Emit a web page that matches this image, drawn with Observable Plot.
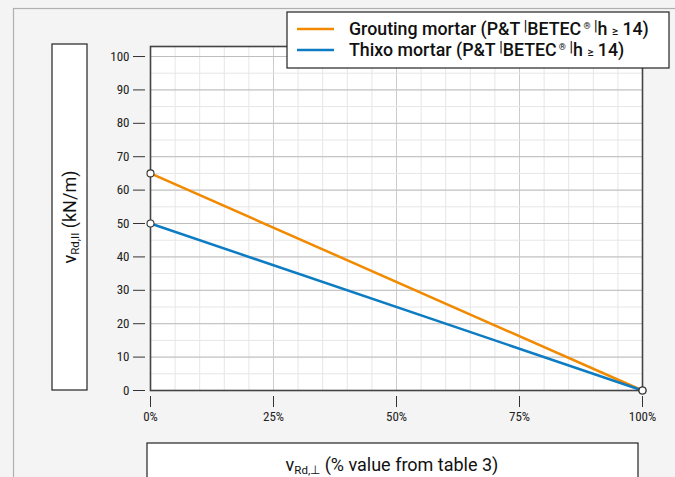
<!DOCTYPE html>
<html>
<head>
<meta charset="utf-8">
<script src="https://cdn.jsdelivr.net/npm/d3@7"></script>
<script src="https://cdn.jsdelivr.net/npm/@observablehq/plot@0.6"></script>
<style>
  html, body { margin: 0; padding: 0; background: #f4f4f4; overflow: hidden; }
  #chart { width: 675px; height: 477px; }
</style>
</head>
<body>
<div id="chart"></div>
<script>
// ---- data ----
const seriesNames = ["Grouting mortar", "Thixo mortar"];
const seriesColors = ["#F18A00", "#0E7CC2"];
const xValues = [0, 100];              // v_Rd,⊥ in %
const groutingValues = [65, 0];        // v_Rd,II kN/m
const thixoValues = [50, 0];           // v_Rd,II kN/m
const xTicks = [0, 25, 50, 75, 100];
const yTicks = [0, 10, 20, 30, 40, 50, 60, 70, 80, 90, 100];

const FONT = "'Roboto Condensed', 'DejaVu Sans Condensed', 'Liberation Sans Narrow', Roboto, sans-serif";
const LFONT = "Roboto, 'Noto Sans', sans-serif";

const rows = [];
xValues.forEach((x, i) => rows.push({series: seriesNames[0], x, y: groutingValues[i]}));
xValues.forEach((x, i) => rows.push({series: seriesNames[1], x, y: thixoValues[i]}));

const color = {domain: seriesNames, range: seriesColors};

const plot = Plot.plot({
  width: 675,
  height: 477,
  marginLeft: 150,
  marginRight: 33,
  marginTop: 46,
  marginBottom: 87,
  style: {background: "#f4f4f4", fontFamily: FONT, fontSize: "13px", color: "#222", overflow: "visible"},
  x: {domain: [0, 100]},
  y: {domain: [0, 103]},
  color,
  marks: [
    Plot.frame({fill: "white", stroke: null}),
    Plot.gridX(d3.range(0, 101, 5), {stroke: "#e6e6e6", strokeOpacity: 1}),
    Plot.gridX(xTicks, {stroke: "#cccccc", strokeOpacity: 1}),
    Plot.gridY(d3.range(0, 101, 5), {stroke: "#e6e6e6", strokeOpacity: 1}),
    Plot.gridY(yTicks, {stroke: "#bdbdbd", strokeOpacity: 1}),
    Plot.axisY(yTicks, {tickSize: 12, dx: -5, tickPadding: 4, label: null, stroke: "#333", fill: "#222", fontSize: 13}),
    Plot.axisX(xTicks, {tickSize: 11, dy: 6, tickPadding: 4, label: null, stroke: "#333", fill: "#222", fontSize: 13, tickFormat: d => d + "%"}),
    Plot.line(rows, {x: "x", y: "y", z: "series", stroke: "series", strokeWidth: 2.5}),
    Plot.frame({stroke: "#444", strokeWidth: 1.6}),
    Plot.dot(rows, {x: "x", y: "y", r: 3.5, fill: "white", stroke: "#333", strokeWidth: 1.1})
  ]
});
document.getElementById("chart").appendChild(plot);

// ---- decorations (boxes, labels, legend) ----
const svg = d3.select(plot);
// outer card border
svg.insert("rect", ":first-child")
  .attr("x", 13.5).attr("y", 8.5).attr("width", 800).attr("height", 600)
  .attr("fill", "none").attr("stroke", "#b0b0b0").attr("stroke-width", 1.2);

const deco = svg.append("g").attr("font-family", LFONT).attr("fill", "#111").attr("text-anchor", "start");

// y label box
deco.append("rect").attr("x", 52).attr("y", 44).attr("width", 35).attr("height", 346)
  .attr("fill", "white").attr("stroke", "#222").attr("stroke-width", 1.2);
const yl = deco.append("text").attr("transform", "translate(75.5,217) rotate(-90)")
  .attr("text-anchor", "middle").attr("font-size", 18);
yl.append("tspan").text("v");
yl.append("tspan").attr("font-size", 11.5).attr("dy", 3).text("Rd,II");
yl.append("tspan").attr("dy", -3).text(" (kN/m)");

// x label box
deco.append("rect").attr("x", 147).attr("y", 443).attr("width", 491).attr("height", 60)
  .attr("fill", "white").attr("stroke", "#222").attr("stroke-width", 1.2);
const xl = deco.append("text").attr("x", 392).attr("y", 471)
  .attr("text-anchor", "middle").attr("font-size", 18);
xl.append("tspan").text("v");
xl.append("tspan").attr("font-size", 11.5).attr("dy", 3).text("Rd,⊥");
xl.append("tspan").attr("dy", -3).text(" (% value from table 3)");

// legend
deco.append("rect").attr("x", 287).attr("y", 12).attr("width", 382).attr("height", 56)
  .attr("fill", "white").attr("stroke", "#222").attr("stroke-width", 1.2);
seriesNames.forEach((name, i) => {
  const cy = 29 + i * 21;
  deco.append("line").attr("x1", 297).attr("x2", 334).attr("y1", cy).attr("y2", cy)
    .attr("stroke", seriesColors[i]).attr("stroke-width", 2.5);
  const t = deco.append("text").attr("x", 349).attr("y", cy + 6)
    .attr("text-anchor", "start").attr("font-size", 17.8).attr("font-weight", 500);
  t.append("tspan").text(name + " (P&T");
  t.append("tspan").attr("font-size", 14).attr("dy", -4).text(" |");
  t.append("tspan").attr("font-size", 17.8).attr("dy", 4).text("BETEC");
  t.append("tspan").attr("font-size", 9).attr("dy", -6).text(" ®");
  t.append("tspan").attr("font-size", 14).attr("dy", 2).text(" |");
  t.append("tspan").attr("font-size", 17.8).attr("dy", 4).text("h ");
  t.append("tspan").attr("font-size", 12).text("≥");
  t.append("tspan").attr("font-size", 17.8).text(" 14)");
});
</script>
</body>
</html>
